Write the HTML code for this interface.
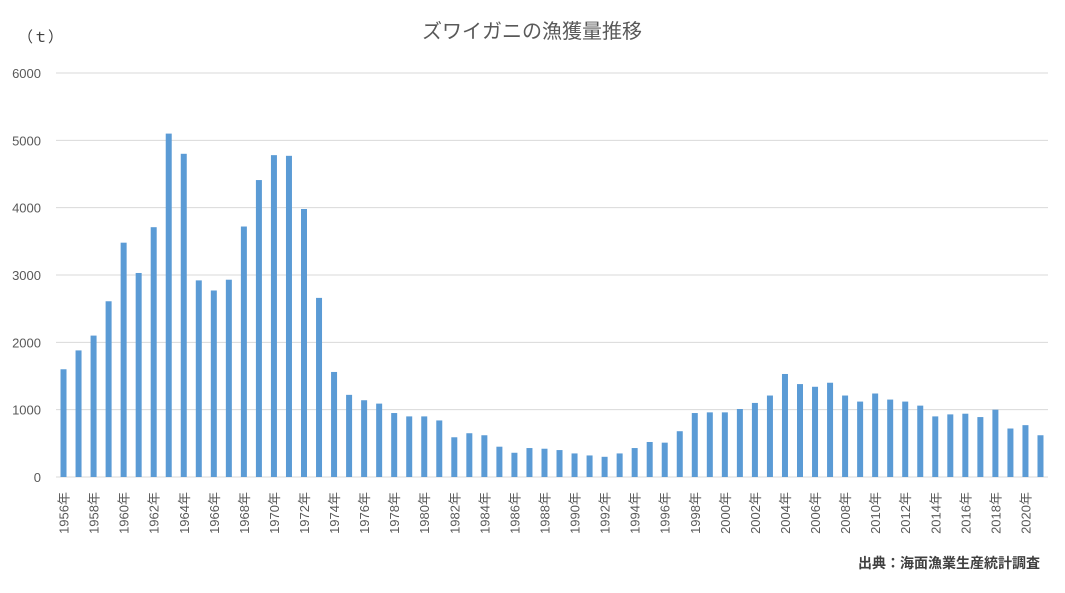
<!DOCTYPE html>
<html><head><meta charset="utf-8"><style>
body{margin:0;background:#fff;font-family:"Liberation Sans","Noto Sans CJK JP",sans-serif;}
</style></head><body>
<svg id="chart" width="1065" height="588" xmlns="http://www.w3.org/2000/svg" font-family="Liberation Sans, Noto Sans CJK JP, sans-serif">
<rect width="1065" height="588" fill="#fff"/>
<text x="532" y="38" text-anchor="middle" font-size="20" fill="#595959">ズワイガニの漁獲量推移</text>
<text x="18" y="42" font-size="15" fill="#404040">（ｔ）</text>
<text x="1040" y="568" text-anchor="end" font-size="14" font-weight="bold" fill="#404040">出典：海面漁業生産統計調査</text>
<g id="grid"></g><g id="bars"></g><g id="xlabels"></g>
</svg>
<script>
const years=[];for(let y=1956;y<=2021;y++)years.push(y);
const values=[1600,1880,2100,2610,3480,3030,3710,5100,4800,2920,2770,2930,3720,4410,4780,4770,3980,2660,1560,1220,1140,1090,950,900,900,840,590,650,620,450,360,430,420,400,350,320,300,350,430,520,510,680,950,960,960,1010,1100,1210,1530,1380,1340,1400,1210,1120,1240,1150,1120,1060,900,930,940,890,1000,720,770,620];
const yTicks=[0,1000,2000,3000,4000,5000,6000];
const NS='http://www.w3.org/2000/svg';
const x0=56,x1=1048,yb=477,yt=73,ymax=6000;
const bw=(x1-x0)/years.length;
const yS=v=>yb-(v/ymax)*(yb-yt);
const xS=i=>x0+(i+0.5)*bw;
const g=document.getElementById('grid'),b=document.getElementById('bars'),xl=document.getElementById('xlabels');
function mk(t,a){const e=document.createElementNS(NS,t);for(const k in a)e.setAttribute(k,a[k]);return e;}
yTicks.forEach(v=>{
 const l=mk('line',{x1:x0,x2:x1,y1:yS(v),y2:yS(v),stroke:'#d9d9d9','stroke-width':1});
 
 
 g.appendChild(l);
 const t=mk('text',{x:41,y:yS(v)+5,'text-anchor':'end','font-size':13,fill:'#595959'});
 t.textContent=v;
 
 
 g.appendChild(t);
});
values.forEach((v,i)=>{
 const r=mk('rect',{x:xS(i)-3,y:yS(v),width:6,height:yb-yS(v),fill:'#5b9bd5'});
 
 
 b.appendChild(r);
 if(i%2===0){
  const t=mk('text',{transform:`translate(${xS(i)+5},492) rotate(-90)`,'text-anchor':'end','font-size':13,fill:'#595959'});
  t.textContent=years[i]+'年';
  
  
  xl.appendChild(t);
 }
});
</script>
</body></html>
